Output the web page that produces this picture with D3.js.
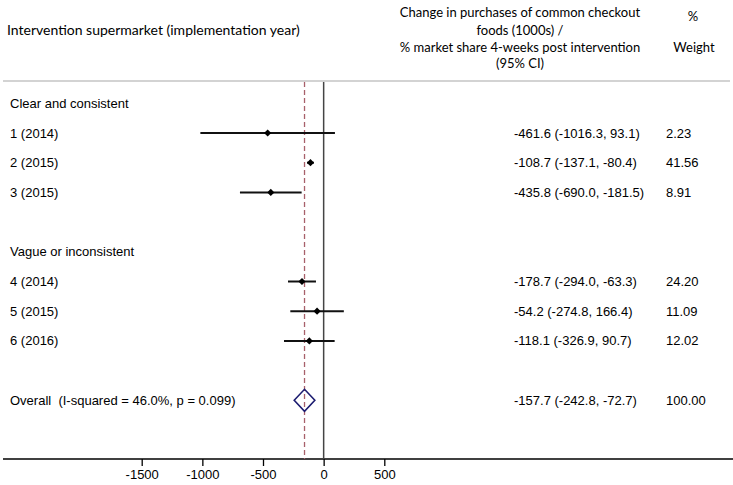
<!DOCTYPE html>
<html><head><meta charset="utf-8">
<script src="https://cdn.jsdelivr.net/npm/d3@7"></script>
<style>body{margin:0;background:#fff}svg{display:block}</style>
</head><body>
<script>
// ---- data ----
const rowLabels = ["Clear and consistent","1 (2014)","2 (2015)","3 (2015)","","Vague or inconsistent","4 (2014)","5 (2015)","6 (2016)","","Overall  (I-squared = 46.0%, p = 0.099)"];
const rowKinds  = ["head","study","study","study","blank","head","study","study","study","blank","overall"];
const estimates = [null,-461.6,-108.7,-435.8,null,null,-178.7,-54.2,-118.1,null,-157.7];
const lowerCI   = [null,-1016.3,-137.1,-690.0,null,null,-294.0,-274.8,-326.9,null,-242.8];
const upperCI   = [null,93.1,-80.4,-181.5,null,null,-63.3,166.4,90.7,null,-72.7];
const weights   = [null,"2.23","41.56","8.91",null,null,"24.20","11.09","12.02",null,"100.00"];
const tickValues = [-1500,-1000,-500,0,500];
const overallEffect = -157.7;

const W = 733, H = 485;
const svg = d3.select("body").append("svg").attr("width",W).attr("height",H);

const x = d3.scaleLinear().domain([-1500,500]).range([141.7,384.3]);
const y = d3.scaleLinear().domain([0,10]).range([103.3,400.3]);

const bodyFont = "'Liberation Sans', Arial, sans-serif";
const headFont = "Lato, 'Open Sans', sans-serif";

// header
const hdr = svg.append("g").attr("font-family",headFont).attr("fill","#000");
hdr.append("text").attr("x",7).attr("y",30).attr("dy","0.35em").attr("font-size",14).text("Intervention supermarket (implementation year)");
const hLines = [["Change in purchases of common checkout",12],["foods (1000s) /",30],["% market share 4-weeks post intervention",47],["(95% CI)",63]];
hLines.forEach(([t,yy])=>hdr.append("text").attr("x",520).attr("y",yy).attr("dy","0.35em").attr("font-size",13).attr("text-anchor","middle").text(t));
hdr.append("text").attr("x",693).attr("y",16).attr("dy","0.35em").attr("font-size",13).attr("text-anchor","middle").text("%");
hdr.append("text").attr("x",694).attr("y",47).attr("dy","0.35em").attr("font-size",13).attr("text-anchor","middle").text("Weight");

// separator
svg.append("line").attr("x1",3).attr("x2",730).attr("y1",81).attr("y2",81).attr("stroke","#c4c4c4").attr("stroke-width",1.5);

// axis
const axisY = 459;
const axis = d3.axisBottom(x).tickValues(tickValues).tickSize(7).tickPadding(4).tickFormat(d3.format("d"));
const ag = svg.append("g").attr("transform",`translate(0,${axisY})`).call(axis);
ag.select(".domain").remove();
ag.selectAll(".tick line").attr("stroke","#000").attr("stroke-width",1.3);
ag.selectAll(".tick text").attr("font-family",bodyFont).attr("font-size",13).attr("fill","#000").text(d=>d3.format("d")(d).replace("−","-"));
svg.append("line").attr("x1",3).attr("x2",733).attr("y1",axisY).attr("y2",axisY).attr("stroke","#000").attr("stroke-width",1.3);

// null line
svg.append("line").attr("x1",x(0)).attr("x2",x(0)).attr("y1",82).attr("y2",axisY).attr("stroke","#444").attr("stroke-width",1.5);
// overall dashed line
svg.append("line").attr("x1",x(overallEffect)).attr("x2",x(overallEffect)).attr("y1",82).attr("y2",axisY)
  .attr("stroke","#a8606a").attr("stroke-width",1.3).attr("stroke-dasharray","5,3");

// rows
const rows = rowLabels.map((l,i)=>({l,i,k:rowKinds[i],e:estimates[i],lo:lowerCI[i],hi:upperCI[i],w:weights[i]}));
const tg = svg.append("g").attr("font-family",bodyFont).attr("font-size",13).attr("fill","#000").style("white-space","pre");
rows.forEach(r=>{
  if(r.l) tg.append("text").attr("x",10).attr("y",y(r.i)).attr("dy","0.35em").attr("xml:space","preserve").text(r.l);
  if(r.e!==null){
    tg.append("text").attr("x",514).attr("y",y(r.i)).attr("dy","0.35em")
      .text(`${r.e.toFixed(1)} (${r.lo.toFixed(1)}, ${r.hi.toFixed(1)})`);
    tg.append("text").attr("x",666).attr("y",y(r.i)).attr("dy","0.35em").text(r.w);
  }
});

const marks = svg.append("g");
rows.filter(r=>r.k==="study").forEach(r=>{
  const yy = y(r.i);
  marks.append("line").attr("x1",x(r.lo)).attr("x2",x(r.hi)).attr("y1",yy).attr("y2",yy).attr("stroke","#111").attr("stroke-width",2);
  const cx = x(r.e), s = 3.6;
  marks.append("path").attr("d",`M${cx-s},${yy}L${cx},${yy-s}L${cx+s},${yy}L${cx},${yy+s}Z`).attr("fill","#000");
});
rows.filter(r=>r.k==="overall").forEach(r=>{
  const yy = y(r.i), h = 11;
  marks.append("path").attr("d",`M${x(r.lo)},${yy}L${x(r.e)},${yy-h}L${x(r.hi)},${yy}L${x(r.e)},${yy+h}Z`)
    .attr("fill","none").attr("stroke","#1c1c70").attr("stroke-width",1.6);
});
</script>
</body></html>
